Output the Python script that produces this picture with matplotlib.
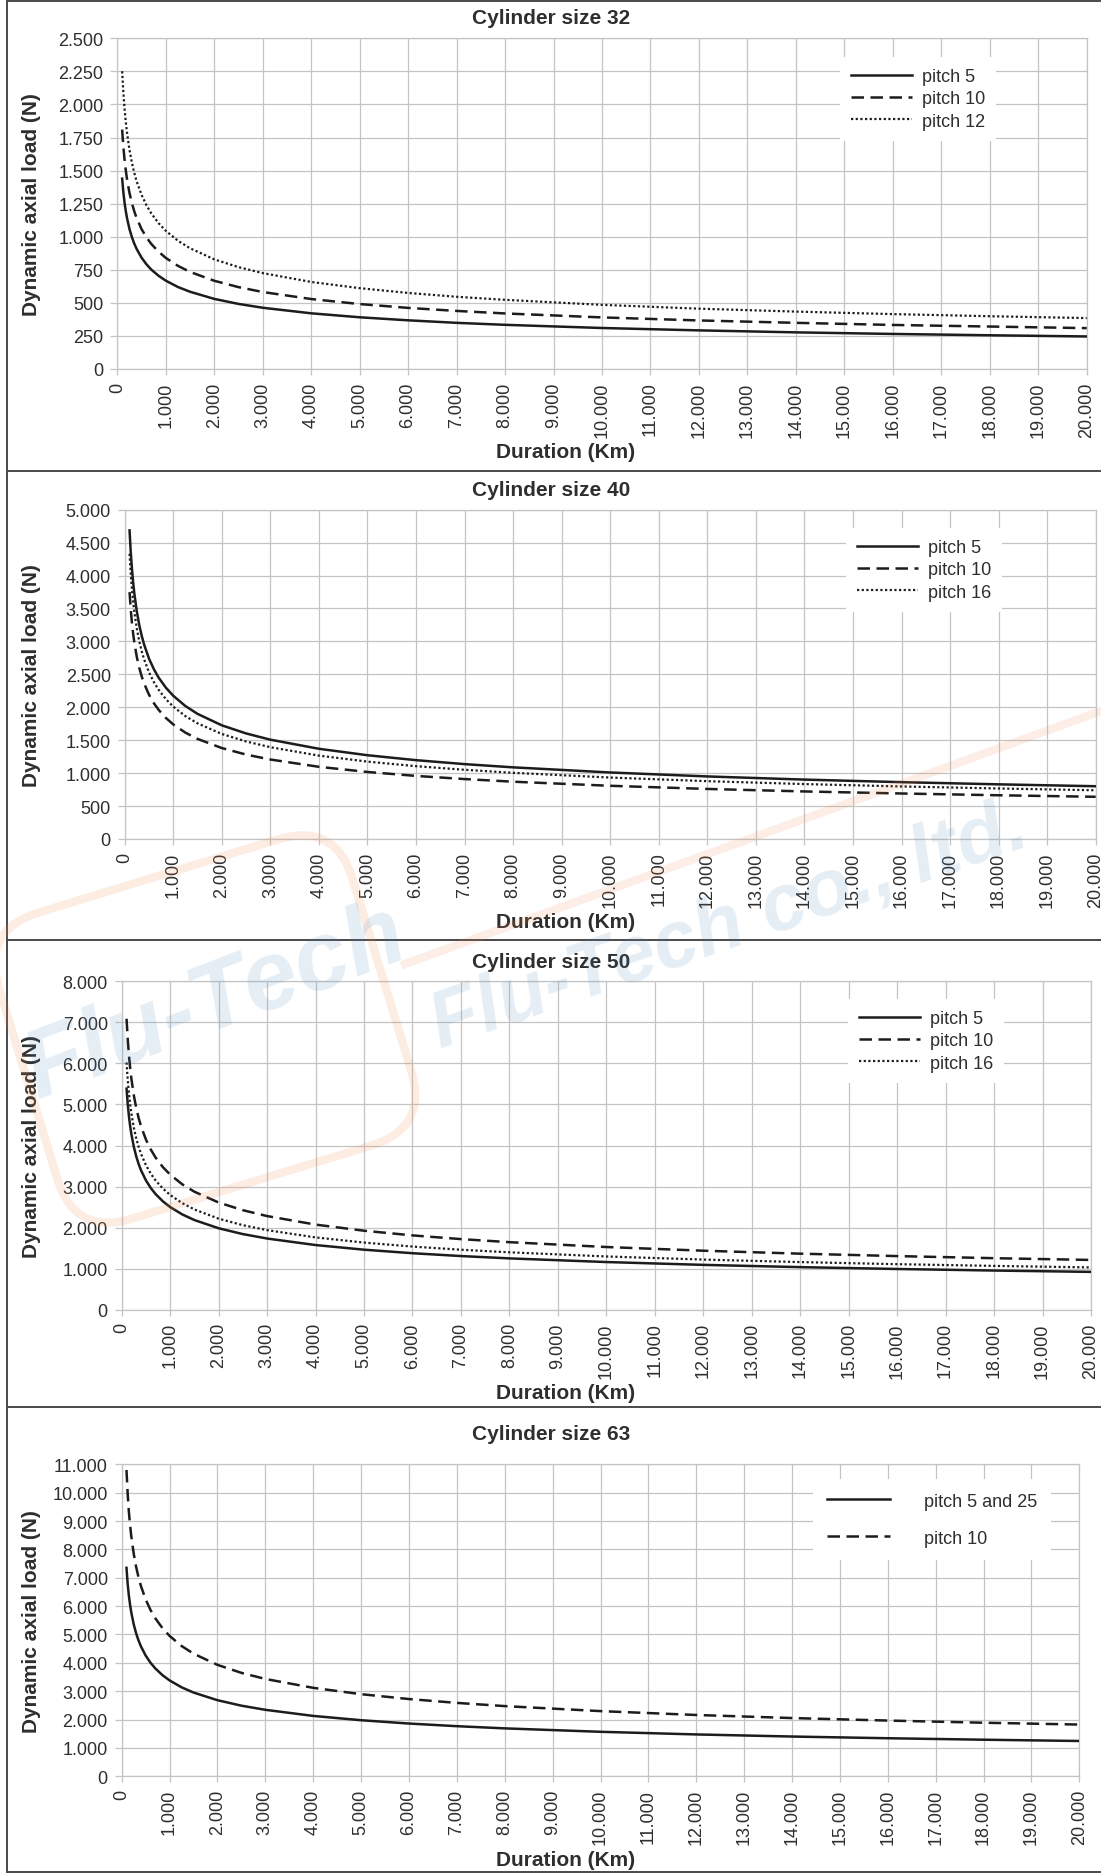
import matplotlib
matplotlib.use('Agg')
from matplotlib import pyplot as plt
from matplotlib.patches import FancyBboxPatch
from matplotlib.transforms import Affine2D
from matplotlib.ticker import MultipleLocator, FuncFormatter

plt.rcParams['font.family'] = ['Liberation Sans', 'DejaVu Sans']

# duration (Km) at which the curves were read
km = [100, 125, 150, 175, 200, 250, 300, 350, 400, 500, 600, 700, 850, 1000, 1250,
      1500, 2000, 2500, 3000, 4000, 5000, 6000, 7000, 8000, 10000, 12000, 14000,
      16000, 18000, 20000]

# cylinder size 32
s32_p5 = [1439, 1336, 1257, 1194, 1142, 1060, 998, 948, 907, 842, 792, 752, 705, 668, 620,
          584, 530, 492, 463, 421, 391, 368, 349, 334, 310, 292, 277, 265, 255, 246]
s32_p10 = [1810, 1680, 1581, 1502, 1436, 1333, 1255, 1192, 1140, 1058, 996, 946, 887, 840, 780,
           734, 667, 619, 582, 529, 491, 462, 439, 420, 390, 367, 349, 333, 321, 309]
s32_p12 = [2251, 2090, 1967, 1868, 1787, 1659, 1561, 1483, 1418, 1317, 1239, 1177, 1103, 1045, 970,
           913, 829, 770, 725, 658, 611, 575, 546, 523, 485, 456, 434, 415, 399, 385]

# cylinder size 40
s40_p5 = [4686, 4350, 4094, 3889, 3719, 3453, 3249, 3086, 2952, 2740, 2579, 2449, 2296, 2175, 2019,
          1900, 1726, 1603, 1508, 1370, 1272, 1197, 1137, 1088, 1010, 950, 902, 863, 830, 801]
s40_p10 = [3749, 3480, 3275, 3111, 2975, 2762, 2599, 2469, 2362, 2192, 2063, 1960, 1837, 1740, 1615,
           1520, 1381, 1282, 1207, 1096, 1018, 958, 910, 870, 808, 760, 722, 691, 664, 641]
s40_p16 = [4330, 4020, 3783, 3594, 3437, 3191, 3003, 2852, 2728, 2532, 2383, 2264, 2122, 2010, 1866,
           1756, 1595, 1481, 1394, 1266, 1175, 1106, 1051, 1005, 933, 878, 834, 798, 767, 740]

# cylinder size 50
s50_p5 = [5386, 5000, 4705, 4470, 4275, 3969, 3735, 3547, 3393, 3150, 2964, 2816, 2639, 2500, 2321,
          2184, 1984, 1842, 1734, 1575, 1462, 1376, 1307, 1250, 1161, 1092, 1037, 992, 954, 921]
s50_p10 = [7088, 6580, 6192, 5883, 5626, 5223, 4915, 4668, 4465, 4145, 3901, 3705, 3473, 3290, 3054,
           2874, 2611, 2424, 2281, 2073, 1924, 1810, 1720, 1645, 1527, 1437, 1365, 1306, 1255, 1212]
s50_p16 = [6022, 5590, 5260, 4997, 4779, 4437, 4175, 3966, 3793, 3521, 3314, 3148, 2951, 2795, 2595,
           2442, 2218, 2059, 1938, 1761, 1635, 1538, 1461, 1398, 1297, 1221, 1160, 1109, 1067, 1030]

# cylinder size 63
s63_p5 = [7350, 6780, 6361, 6045, 5780, 5365, 5049, 4796, 4587, 4258, 4007, 3807, 3568, 3380, 3138,
          2953, 2683, 2490, 2344, 2129, 1977, 1860, 1767, 1690, 1569, 1476, 1402, 1342, 1290, 1245]
s63_p10 = [10800, 9950, 9316, 8855, 8465, 7858, 7394, 7023, 6718, 6237, 5869, 5575, 5226, 4950, 4595,
           4324, 3929, 3647, 3432, 3119, 2895, 2724, 2588, 2475, 2298, 2162, 2054, 1965, 1889, 1824]

W, H = 1101, 1874
INK = '#1c1c1c'
GRID = '#c4c4c4'
TXT = '#2e2e2e'
FS = 13

styles = {'solid': ('-', 1.8), 'dashed': ((0, (5, 2.6)), 1.8), 'dotted': ((0, (1, 1.1)), 1.6)}

panels = [
    {'title': 'Cylinder size 32', 'title_y': 18, 'ax': (117.3, 39.3, 1086.7, 370),
     'ymax': 2500, 'ystep': 250, 'legend': (840, 58), 'wide': False,
     'lines': [('pitch 5', s32_p5, 'solid'), ('pitch 10', s32_p10, 'dashed'),
               ('pitch 12', s32_p12, 'dotted')]},
    {'title': 'Cylinder size 40', 'title_y': 491, 'ax': (124.7, 510.7, 1095.7, 840),
     'ymax': 5000, 'ystep': 500, 'legend': (846, 529), 'wide': False,
     'lines': [('pitch 5', s40_p5, 'solid'), ('pitch 10', s40_p10, 'dashed'),
               ('pitch 16', s40_p16, 'dotted')]},
    {'title': 'Cylinder size 50', 'title_y': 962, 'ax': (121.7, 982.3, 1091, 1310.7),
     'ymax': 8000, 'ystep': 1000, 'legend': (848, 1000), 'wide': False,
     'lines': [('pitch 5', s50_p5, 'solid'), ('pitch 10', s50_p10, 'dashed'),
               ('pitch 16', s50_p16, 'dotted')]},
    {'title': 'Cylinder size 63', 'title_y': 1435, 'ax': (121.7, 1465.3, 1079.3, 1777.3),
     'ymax': 11000, 'ystep': 1000, 'legend': (813, 1480), 'wide': True,
     'lines': [('pitch 5 and 25', s63_p5, 'solid'), ('pitch 10', s63_p10, 'dashed')]},
]
box_lines = [2, 472, 941, 1408, 1873]


def thousands(v, pos):
    return f'{int(round(v)):,}'.replace(',', '.')


def fx(px):
    return px / W


def fy(py):
    return 1 - py / H


fig = plt.figure(figsize=(W / 100, H / 100), dpi=100)

for p in panels:
    x0, y0, x1, y1 = p['ax']
    ax = fig.add_axes([fx(x0), fy(y1), (x1 - x0) / W, (y1 - y0) / H])
    for label, ys, st in p['lines']:
        ls, lw = styles[st]
        ax.plot(km, ys, color=INK, lw=lw, linestyle=ls, label=label, zorder=3)
    ax.set_xlim(0, 20000)
    ax.set_ylim(0, p['ymax'])
    ax.xaxis.set_major_locator(MultipleLocator(1000))
    ax.yaxis.set_major_locator(MultipleLocator(p['ystep']))
    ax.xaxis.set_major_formatter(FuncFormatter(thousands))
    ax.yaxis.set_major_formatter(FuncFormatter(thousands))
    ax.grid(True, color=GRID, lw=0.9)
    ax.set_axisbelow(True)
    for sp in ax.spines.values():
        sp.set_color(GRID)
        sp.set_linewidth(0.9)
    ax.tick_params(axis='x', labelrotation=90, length=4, width=0.9, pad=5,
                   color=GRID, labelsize=FS, labelcolor=TXT)
    ax.tick_params(axis='y', length=5, width=0.9, pad=5,
                   color=GRID, labelsize=FS, labelcolor=TXT)

    fig.text(fx(551), fy(p['title_y']), p['title'], ha='center', va='center',
             fontsize=15, fontweight='bold', color=TXT)
    fig.text(fx(566), fy(y1 + 83), 'Duration (Km)', ha='center', va='center',
             fontsize=15, fontweight='bold', color=TXT)
    fig.text(fx(32), fy((y0 + y1) / 2), 'Dynamic axial load (N)', rotation=90,
             ha='center', va='center', fontsize=15, fontweight='bold', color=TXT)

    lx, ly = p['legend']
    if p['wide']:
        opts = dict(handlelength=3.5, handletextpad=1.9, labelspacing=1.12, borderpad=0.75)
    else:
        opts = dict(handlelength=3.4, handletextpad=0.55, labelspacing=0.3, borderpad=0.6)
    leg = ax.legend(loc='upper left', bbox_to_anchor=(fx(lx), fy(ly)),
                    bbox_transform=fig.transFigure, borderaxespad=0,
                    frameon=True, fancybox=False, edgecolor='none', facecolor='white',
                    framealpha=1, fontsize=FS, labelcolor=TXT, **opts)
    leg.set_zorder(5)

# panel frames
for y in box_lines:
    fig.add_artist(plt.Line2D([fx(7), 1], [fy(y), fy(y)], color='#4a4a4a', lw=1.4))
fig.add_artist(plt.Line2D([fx(7), fx(7)], [fy(2), fy(1873)], color='#4a4a4a', lw=1.4))

# faint watermark (logo outline, band and company name)
logo = FancyBboxPatch((20, H - 1190), 370, 320, boxstyle='round,pad=0,rounding_size=60',
                      fill=False, edgecolor='#f08a50', lw=6, alpha=0.16, zorder=9,
                      transform=Affine2D().rotate_deg_around(205, H - 1030, 17))
fig.add_artist(logo)
fig.add_artist(plt.Line2D([fx(405), 1], [fy(965), fy(712)], color='#f08a50', lw=6,
                          alpha=0.14, zorder=9))
fig.text(fx(215), fy(1004), 'Flu-Tech', rotation=21, ha='center', va='center',
         fontsize=70, fontweight='bold', fontstyle='italic', color='#4f86bd', alpha=0.14,
         zorder=10)
fig.text(fx(440), fy(1048), 'Flu-Tech co., ltd.', rotation=19, rotation_mode='anchor',
         ha='left', va='baseline', fontsize=57, fontweight='bold', fontstyle='italic',
         color='#4f86bd', alpha=0.14, zorder=10)

fig.savefig('out.png', dpi=100)
